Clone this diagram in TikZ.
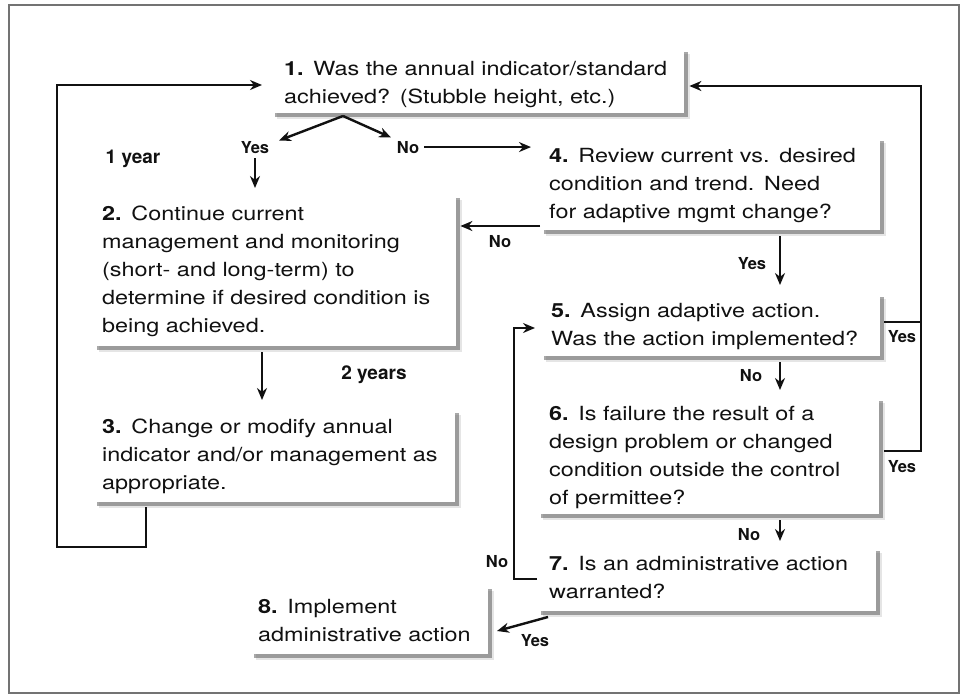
\documentclass[tikz,border=0pt]{standalone}
\usepackage{fontspec}
\setmainfont{TeX Gyre Heros}[FakeStretch=1.2]
\newfontfamily\labfont{TeX Gyre Heros}
\usetikzlibrary{arrows.meta,shadows,calc}
\definecolor{ink}{HTML}{111111}
\tikzset{
  boxst/.style={fill=white, inner sep=0pt, anchor=north west,
    drop shadow={shadow xshift=6pt, shadow yshift=-6pt, fill=black!20},
    drop shadow={shadow xshift=4pt, shadow yshift=-4pt, fill=black!68}},
  txt/.style={anchor=base west, inner sep=0pt, text width=420pt, align=left,
    text=ink, font=\fontsize{19.5}{28}\selectfont},
  lab/.style={anchor=base, inner sep=0pt, text=ink,
    font=\labfont\bfseries\fontsize{16.5}{18}\selectfont},
  yrlab/.style={anchor=base, inner sep=0pt, text=ink,
    font=\labfont\bfseries\fontsize{19}{22}\selectfont},
  conn/.style={draw=ink, line width=2.4pt},
  arr/.style={conn, -{Stealth[length=12pt,width=10pt]}},
  frame/.style={draw=black!55, line width=1.4pt}
}
\begin{document}
\begin{tikzpicture}[x=1pt,y=-1pt]
\useasboundingbox (0,0) rectangle (964,696);
\fill[white] (0,0) rectangle (964,696);
\draw[frame] (9,5) rectangle (959,693);

% boxes
\node[boxst, minimum width=413pt, minimum height=65pt] (b1) at (271,48) {};
\node[boxst, minimum width=363pt, minimum height=152pt] (b2) at (93,194) {};
\node[boxst, minimum width=362pt, minimum height=93pt] (b3) at (93,409) {};
\node[boxst, minimum width=340pt, minimum height=93pt] (b4) at (540,137) {};
\node[boxst, minimum width=340pt, minimum height=63pt] (b5) at (540,293) {};
\node[boxst, minimum width=342pt, minimum height=117pt] (b6) at (537,397) {};
\node[boxst, minimum width=339pt, minimum height=64pt] (b7) at (537,547) {};
\node[boxst, minimum width=238pt, minimum height=69pt] (b8) at (250,585) {};

% texts
\node[txt] (t1) at (284,75) {\textbf{1.} Was the annual indicator/standard\\achieved? (Stubble height, etc.)};
\node[txt] (t2) at (102,220) {\textbf{2.} Continue current\\management and monitoring\\(short- and long-term) to\\determine if desired condition is\\being achieved.};
\node[txt] (t3) at (102,433) {\textbf{3.} Change or modify annual\\indicator and/or management as\\appropriate.};
\node[txt] (t4) at (549,162) {\textbf{4.} Review current vs. desired\\condition and trend. Need\\for adaptive mgmt change?};
\node[txt] (t5) at (551,317) {\textbf{5.} Assign adaptive action.\\Was the action implemented?};
\node[txt] (t6) at (549,420) {\textbf{6.} Is failure the result of a\\design problem or changed\\condition outside the control\\of permittee?};
\node[txt] (t7) at (549,570) {\textbf{7.} Is an administrative action\\warranted?};
\node[txt] (t8) at (258,613) {\textbf{8.} Implement\\administrative action};

% labels
\node[lab] (yes1) at (255,153) {Yes};
\node[lab] (no1) at (408,153) {No};
\node[yrlab] (yr1) at (133,163) {1 year};
\node[yrlab] (yr2) at (374,379) {2 years};
\node[lab] (no4) at (500,247) {No};
\node[lab] (yes4) at (752,269) {Yes};
\node[lab] (no5) at (751,381) {No};
\node[lab] (no6) at (749,540) {No};
\node[lab] (no7) at (497,567) {No};
\node[lab] (yes7) at (535,646) {Yes};
\node[lab] (yes5) at (902,342) {Yes};
\node[lab] (yes6) at (902,472) {Yes};

% coordinates
\coordinate (ap) at (343,116);
\coordinate (rt) at (921,86);
\coordinate (lb) at (57,547);
\coordinate (nl) at (514,579);
\coordinate (n1s) at ($(no1.east)+(5,0)$);

% connectors
\draw[arr] (ap) -- (279,140.5);
\draw[arr] (ap) -- (391,137.5);
\draw[arr, shorten >=9pt] (n1s) -- (n1s -| b4.west);
\draw[arr, shorten >=6pt] (255,158) -- (255,194);
\draw[arr, shorten >=4pt] (b4.west |- 0,226) -- (b2.east |- 0,226);
\draw[arr, shorten >=8pt] (780,236) -- (780,293);
\draw[arr, shorten >=7pt] (780,362) -- (780,397);
\draw[arr, shorten >=6pt] (780,520) -- (780,547);
\draw[conn] (884,322) -- (921,322);
\draw[arr, shorten >=5pt] (884,451) -- (921,451) -- (rt) -- (b1.east |- rt);
\draw[arr, shorten >=5pt] (b7.west |- nl) -- (nl) -- (nl |- 0,328) -- (b5.west |- 0,328);
\draw[arr] (548,617) -- (497,631);
\draw[arr, shorten >=9pt] (262,352) -- (262,409);
\draw[arr, shorten >=9pt] (146,507) -- (146,547) -- (lb) -- (57,85) -- (b1.west |- 0,85);
\end{tikzpicture}
\end{document}
